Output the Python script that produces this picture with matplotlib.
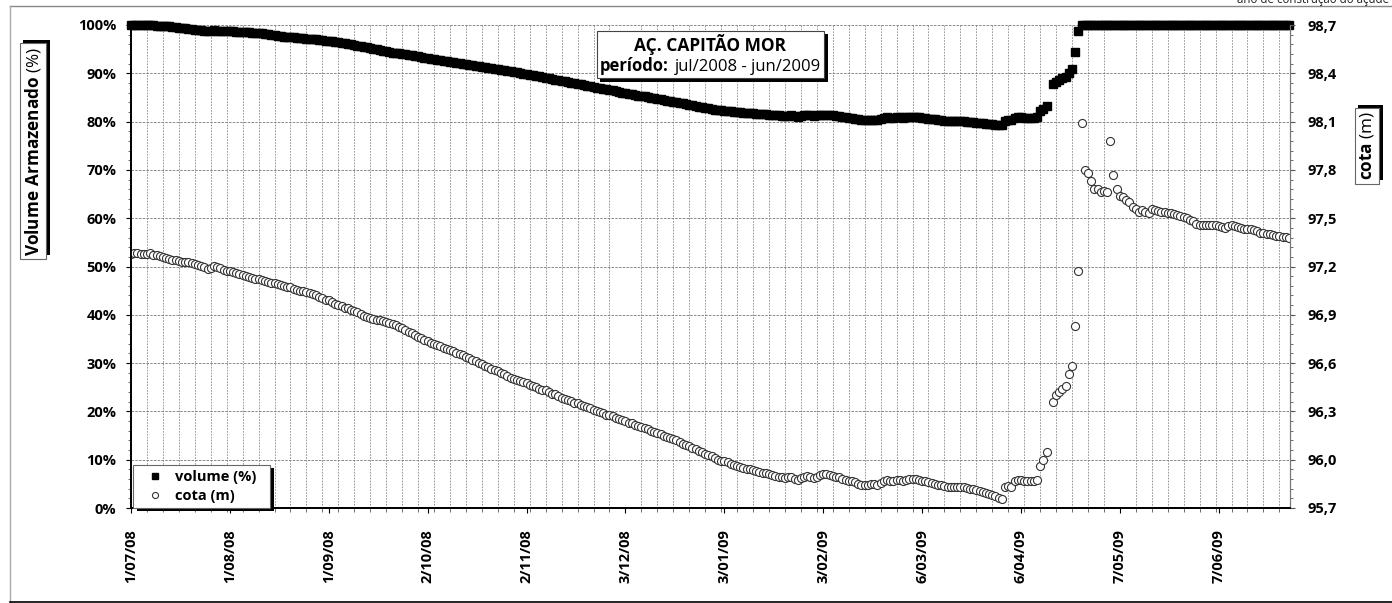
import numpy as np
import pandas as pd
import matplotlib
matplotlib.use('Agg')
import matplotlib.pyplot as plt
import matplotlib.patheffects as pe
import matplotlib.dates as mdates
from matplotlib.lines import Line2D
from matplotlib.ticker import FixedLocator, MultipleLocator, FuncFormatter
from matplotlib.offsetbox import TextArea, HPacker, VPacker, AnchoredOffsetbox

plt.rcParams['font.family'] = ['Open Sans', 'DejaVu Sans']
plt.rcParams['mathtext.fontset'] = 'custom'
plt.rcParams['mathtext.rm'] = 'Open Sans'
plt.rcParams['mathtext.bf'] = 'Open Sans:bold'

nan = np.nan
start_date = '2008-07-01'

# daily water level (m)
cota_jul = [97.28, 97.285, 97.285, 97.28, 97.28, 97.28, 97.285, 97.27, 97.27, 97.265,
            97.26, 97.25, 97.245, 97.24, 97.24, 97.235, 97.23, 97.23, 97.225, 97.22,
            97.215, 97.21, 97.205, 97.195, 97.185, 97.19, 97.2, 97.195, 97.19, 97.18,
            97.175]
cota_aug = [97.17, 97.165, 97.16, 97.155, 97.15, 97.14, 97.135, 97.13, 97.125, 97.12,
            97.115, 97.11, 97.105, 97.1, 97.098, 97.09, 97.085, 97.08, 97.075, 97.07,
            97.06, 97.054, 97.05, 97.045, 97.04, 97.035, 97.03, 97.02, 97.01, 97.004,
            96.995]
cota_sep = [96.99, 96.98, 96.97, 96.96, 96.955, 96.945, 96.94, 96.93, 96.925, 96.915,
            96.905, 96.895, 96.886, 96.88, 96.875, 96.87, 96.865, 96.86, 96.855, 96.85,
            96.84, 96.835, 96.825, 96.815, 96.805, 96.795, 96.785, 96.775, 96.765, 96.755]
cota_oct = [96.745, 96.735, 96.725, 96.72, 96.71, 96.705, 96.695, 96.69, 96.68, 96.675,
            96.665, 96.655, 96.65, 96.64, 96.63, 96.62, 96.61, 96.6, 96.595, 96.585,
            96.575, 96.565, 96.555, 96.55, 96.54, 96.53, 96.52, 96.51, 96.5, 96.495,
            96.49]
cota_nov = [96.48, 96.475, 96.465, 96.46, 96.45, 96.44, 96.435, 96.43, 96.42, 96.41,
            96.405, 96.395, 96.385, 96.38, 96.37, 96.365, 96.355, 96.35, 96.34, 96.335,
            96.325, 96.32, 96.31, 96.305, 96.295, 96.29, 96.28, 96.275, 96.27, 96.26]
cota_dec = [96.25, 96.245, 96.24, 96.23, 96.225, 96.215, 96.21, 96.2, 96.195, 96.19,
            96.18, 96.175, 96.165, 96.16, 96.15, 96.14, 96.135, 96.13, 96.12, 96.11,
            96.1, 96.09, 96.085, 96.075, 96.065, 96.055, 96.045, 96.035, 96.03, 96.02,
            96.01]
cota_jan = [96.0, 95.995, 95.99, 95.985, 95.975, 95.97, 95.96, 95.955, 95.95, 95.945,
            95.94, 95.935, 95.93, 95.925, 95.92, 95.915, 95.91, 95.905, 95.9, 95.895,
            95.89, 95.885, 95.89, 95.895, 95.88, 95.875, 95.885, 95.895, 95.9, 95.89,
            95.885]
cota_feb = [95.895, 95.905, 95.91, 95.91, 95.905, 95.9, 95.895, 95.89, 95.88, 95.875,
            95.87, 95.865, 95.86, 95.85, 95.84, 95.84, 95.845, 95.85, 95.85, 95.845,
            95.855, 95.87, 95.875, 95.87, 95.87, 95.875, 95.875, 95.87]
cota_mar = [95.875, 95.88, 95.88, 95.878, 95.874, 95.87, 95.865, 95.86, 95.855, 95.85,
            95.845, 95.84, 95.835, 95.83, 95.83, 95.83, 95.83, 95.83, 95.828, 95.825,
            95.82, 95.815, 95.81, 95.805, 95.8, 95.795, 95.79, 95.78, 95.775, 95.765,
            95.755]
cota_apr = [95.83, 95.835, 95.83, 95.87, 95.875, 95.875, 95.87, 95.865, 95.865, 95.87,
            95.875, 95.96, 96.0, 96.05, nan, 96.36, 96.4, 96.42, 96.44, 96.46,
            96.53, 96.58, 96.83, 97.17, 98.09, 97.8, 97.78, 97.73, 97.68, 97.68]
cota_may = [97.66, 97.67, 97.66, 97.98, 97.77, 97.68, 97.64, 97.63, 97.61, 97.6,
            97.57, 97.56, 97.54, 97.55, 97.54, 97.53, 97.555, 97.55, 97.545, 97.54,
            97.54, 97.535, 97.53, 97.525, 97.52, 97.515, 97.51, 97.5, 97.49, 97.48,
            97.465]
cota_jun = [97.46, 97.46, 97.46, 97.46, 97.46, 97.455, 97.45, 97.445, 97.44, 97.45,
            97.455, 97.45, 97.445, 97.44, 97.435, 97.43, 97.43, 97.425, 97.42, 97.41,
            97.405, 97.4, 97.4, 97.395, 97.39, 97.39, 97.385, 97.385, 97.38]

# daily stored volume (%)
vol_jul = [100, 100, 100, 99.95, 99.95, 99.9, 99.9, 99.9, 99.85, 99.8,
           99.8, 99.75, 99.7, 99.6, 99.5, 99.4, 99.35, 99.3, 99.2, 99.1,
           99.0, 98.95, 98.9, 98.85, 98.8, 98.85, 98.9, 98.85, 98.8, 98.75,
           98.7]
vol_aug = [98.75, 98.7, 98.65, 98.6, 98.55, 98.5, 98.45, 98.4, 98.35, 98.3,
           98.25, 98.15, 98.1, 98.0, 97.9, 97.8, 97.7, 97.6, 97.55, 97.5,
           97.45, 97.4, 97.3, 97.25, 97.2, 97.1, 97.05, 97.0, 96.9, 96.85,
           96.75]
vol_sep = [96.7, 96.6, 96.5, 96.4, 96.3, 96.2, 96.1, 96.0, 95.9, 95.75,
           95.6, 95.5, 95.35, 95.2, 95.1, 95.0, 94.85, 94.7, 94.55, 94.4,
           94.3, 94.2, 94.1, 94.0, 93.9, 93.8, 93.7, 93.6, 93.5, 93.35]
vol_oct = [93.2, 93.1, 93.0, 92.9, 92.8, 92.7, 92.6, 92.5, 92.4, 92.3,
           92.2, 92.1, 92.0, 91.9, 91.75, 91.65, 91.55, 91.45, 91.35, 91.25,
           91.15, 91.05, 90.95, 90.85, 90.75, 90.65, 90.55, 90.4, 90.3, 90.2,
           90.05]
vol_nov = [89.9, 89.8, 89.7, 89.6, 89.45, 89.35, 89.2, 89.1, 89.0, 88.85,
           88.7, 88.6, 88.45, 88.35, 88.2, 88.05, 87.95, 87.8, 87.7, 87.55,
           87.45, 87.3, 87.2, 87.05, 86.95, 86.8, 86.7, 86.55, 86.45, 86.3]
vol_dec = [86.1, 86.0, 85.9, 85.75, 85.65, 85.5, 85.4, 85.3, 85.2, 85.05,
           84.95, 84.8, 84.7, 84.6, 84.45, 84.35, 84.25, 84.1, 84.0, 83.85,
           83.75, 83.6, 83.5, 83.35, 83.25, 83.1, 83.0, 82.85, 82.75, 82.6,
           82.5]
vol_jan = [82.4, 82.3, 82.25, 82.15, 82.1, 82.0, 81.95, 81.9, 81.85, 81.8,
           81.75, 81.7, 81.65, 81.6, 81.55, 81.5, 81.45, 81.4, 81.35, 81.3,
           81.2, 81.1, 81.2, 81.3, 81.1, 81.0, 81.2, 81.3, 81.4, 81.3,
           81.2]
vol_feb = [81.3, 81.4, 81.45, 81.45, 81.4, 81.3, 81.2, 81.1, 81.0, 80.9,
           80.8, 80.7, 80.6, 80.45, 80.3, 80.3, 80.35, 80.4, 80.4, 80.35,
           80.5, 80.8, 80.9, 80.8, 80.8, 80.9, 80.9, 80.8]
vol_mar = [80.9, 81.0, 81.0, 80.95, 80.9, 80.8, 80.7, 80.6, 80.5, 80.45,
           80.4, 80.3, 80.2, 80.1, 80.1, 80.1, 80.1, 80.1, 80.05, 80.0,
           79.9, 79.85, 79.8, 79.7, 79.65, 79.6, 79.5, 79.4, 79.35, 79.3,
           79.25]
vol_apr = [80.2, 80.3, 80.3, 80.8, 81.0, 80.9, 80.8, 80.7, 80.7, 80.8,
           80.9, 82.1, 82.7, 83.2, nan, 87.8, 88.2, 88.6, 89.0, 89.3,
           90.0, 90.9, 94.4, 98.8, 100, 100, 100, 100, 100, 100]
vol_may = [100, 100, 100, 100, 100, 100, 100, 100, 100, 100,
           100, 100, 100, 100, 100, 100, 100, 100, 100, 100,
           100, 100, 100, 100, 100, 100, 100, 100, 100, 100,
           100]
vol_jun = [100, 100, 100, 100, 100, 100, 100, 100, 100, 100,
           100, 100, 100, 100, 100, 100, 100, 100, 100, 100,
           100, 100, 100, 100, 100, 100, 100, 100, 100]

tick_dates = ['2008-07-01', '2008-08-01', '2008-09-01', '2008-10-02', '2008-11-02',
              '2008-12-03', '2009-01-03', '2009-02-03', '2009-03-06', '2009-04-06',
              '2009-05-07', '2009-06-07']
tick_labels = ['1/07/08', '1/08/08', '1/09/08', '2/10/08', '2/11/08', '3/12/08',
               '3/01/09', '3/02/09', '6/03/09', '6/04/09', '7/05/09', '7/06/09']

cota = (cota_jul + cota_aug + cota_sep + cota_oct + cota_nov + cota_dec +
        cota_jan + cota_feb + cota_mar + cota_apr + cota_may + cota_jun)
volume = (vol_jul + vol_aug + vol_sep + vol_oct + vol_nov + vol_dec +
          vol_jan + vol_feb + vol_mar + vol_apr + vol_may + vol_jun)
assert len(cota) == len(volume)
dates = pd.date_range(start_date, periods=len(cota), freq='D')

W, H = 1392, 603
fig = plt.figure(figsize=(W / 100, H / 100), dpi=100)
ax = fig.add_axes([131 / W, 1 - 508 / H, (1290 - 131) / W, (508 - 25) / H])
ax2 = ax.twinx()

ax.plot(dates, volume, 's', color='black', ms=6.3, clip_on=False, label='volume (%)')
ax2.plot(dates, cota, 'o', mfc='white', mec='#333333', mew=0.8, ms=5.8, label='cota (m)')

ax.set_xlim(pd.Timestamp('2008-07-01'), pd.Timestamp('2009-06-29 08:00'))
ax.set_ylim(0, 100)
ax2.set_ylim(95.7, 98.7)

# x axis
ax.set_xticks(pd.to_datetime(tick_dates), labels=tick_labels, rotation=90,
              fontsize=10.5, fontweight='bold')
minor_days = pd.date_range('2008-07-01', '2009-06-30', freq='5D')
ax.xaxis.set_minor_locator(FixedLocator(mdates.date2num(minor_days)))
ax.tick_params(axis='x', which='major', length=3.5, pad=12, direction='out')
ax.tick_params(axis='x', which='minor', length=3, direction='out', color='#555')
ax.grid(axis='x', which='minor', color='#888888', lw=0.6, ls=(0, (2, 1.5)))

# left axis
ax.yaxis.set_major_locator(MultipleLocator(10))
ax.yaxis.set_minor_locator(MultipleLocator(2))
ax.yaxis.set_major_formatter(FuncFormatter(lambda v, p: f'{v:.0f}%'))
ax.tick_params(axis='y', which='both', direction='out', labelsize=10.5, pad=7)
ax.tick_params(axis='y', which='major', length=3.5)
ax.tick_params(axis='y', which='minor', length=2.5, color='#555')
for lab in ax.get_yticklabels():
    lab.set_fontweight('bold')
ax.grid(axis='y', which='major', color='#777777', lw=0.6, ls=(0, (3, 1.5)))

# right axis
ax2.set_yticks(np.arange(95.7, 98.71, 0.3))
ax2.yaxis.set_minor_locator(MultipleLocator(0.06))
ax2.yaxis.set_major_formatter(FuncFormatter(lambda v, p: f'{v:.1f}'.replace('.', ',')))
ax2.tick_params(axis='y', which='both', direction='out', labelsize=10.5, pad=9, color='#555')
ax2.tick_params(axis='y', which='major', length=3.5)
ax2.tick_params(axis='y', which='minor', length=2.5)
for lab in ax2.get_yticklabels():
    lab.set_fontweight('bold')

for a in (ax, ax2):
    a.spines['top'].set_visible(False)
    a.spines['left'].set_linewidth(1.3)
    a.spines['bottom'].set_linewidth(1.3)
    a.spines['right'].set_color('#777777')
    a.spines['right'].set_linewidth(0.8)

shadow_dr = [pe.SimplePatchShadow(offset=(2.5, -2.5), shadow_rgbFace='black', alpha=1), pe.Normal()]
shadow_ur = [pe.SimplePatchShadow(offset=(2.5, 2.5), shadow_rgbFace='black', alpha=1), pe.Normal()]

# legend
h1, l1 = ax.get_legend_handles_labels()
h2, l2 = ax2.get_legend_handles_labels()
leg = ax2.legend(h1 + h2, l1 + l2, loc='lower left', bbox_to_anchor=(0.002, 0.0, 0.118, 0.09),
                 mode='expand', borderaxespad=0, fancybox=False, framealpha=1,
                 edgecolor='#666666', handlelength=2.3, handletextpad=0.2, borderpad=0.35,
                 labelspacing=0.35, prop={'weight': 'bold', 'size': 10.5}, markerscale=0.75)
leg.get_frame().set_linewidth(0.8)
leg.get_frame().set_path_effects(shadow_dr)

# title box
t1 = TextArea('AÇ. CAPITÃO MOR', textprops=dict(fontsize=12.5, fontweight='bold'))
t2a = TextArea('período:', textprops=dict(fontsize=12, fontweight='bold'))
t2b = TextArea('jul/2008 - jun/2009', textprops=dict(fontsize=12))
row2 = HPacker(children=[t2a, t2b], pad=0, sep=4, align='baseline')
col = VPacker(children=[t1, row2], pad=0, sep=1, align='center')
tbox = AnchoredOffsetbox(loc='upper center', child=col, pad=0.25, borderpad=0, frameon=True,
                         bbox_to_anchor=(0.5, (508 - 31) / 483), bbox_transform=ax.transAxes)
tbox.patch.set_boxstyle('square,pad=0')
tbox.patch.set(facecolor='white', edgecolor='#444444', linewidth=0.8)
tbox.patch.set_path_effects(shadow_dr)
ax2.add_artist(tbox)

# axis titles
yl = fig.text(33 / W, 1 - 151 / H, '$\\bf{Volume\\ Armazenado}$ (%)', rotation=90,
              ha='center', va='center', fontsize=12.3,
              bbox=dict(boxstyle='square,pad=0.2', fc='white', ec='#666666', lw=0.8))
yl.get_bbox_patch().set_path_effects(shadow_ur)
yr = fig.text(1367 / W, 1 - 146 / H, '$\\bf{cota}$ (m)', rotation=90,
              ha='center', va='center', fontsize=12.3,
              bbox=dict(boxstyle='square,pad=0.2', fc='white', ec='#666666', lw=0.8))
yr.get_bbox_patch().set_path_effects(shadow_ur)

# note at the top right (cut at the page edge as in the source) and outer frame
fig.text(1389 / W, 1 - 3.5 / H, 'ano de construção do açude', ha='right', va='baseline',
         fontsize=8.3, color='#222222')
fig.add_artist(Line2D([10 / W, 1], [1 - 6 / H, 1 - 6 / H], transform=fig.transFigure,
                      color='#888888', lw=1))
fig.add_artist(Line2D([10 / W, 10 / W], [1.5 / H, 1 - 6 / H], transform=fig.transFigure,
                      color='#aaaaaa', lw=1))
fig.add_artist(Line2D([10 / W, 1], [1.5 / H, 1.5 / H], transform=fig.transFigure,
                      color='black', lw=1.2))

fig.savefig('out.png', dpi=100)
